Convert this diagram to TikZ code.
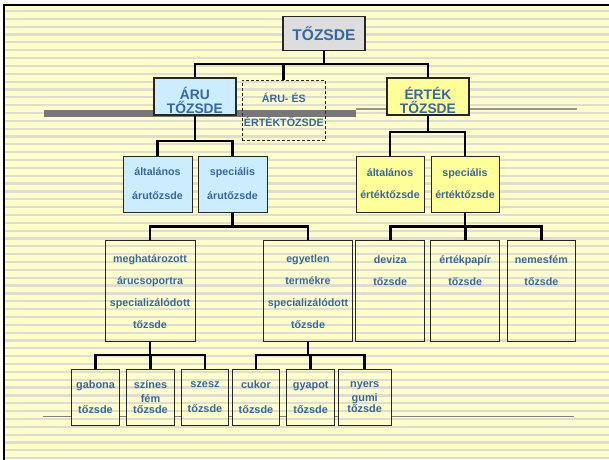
\documentclass[tikz,border=0pt]{standalone}
\usepackage{fontspec}
\setmainfont{Liberation Sans}
\usetikzlibrary{positioning}
\pgfdeclarelayer{background}
\pgfsetlayers{background,main}

\definecolor{bgyellow}{RGB}{255,255,204}
\definecolor{stripegray}{RGB}{221,221,210}
\definecolor{txtblue}{RGB}{55,103,158}
\definecolor{arublue}{RGB}{204,236,255}
\definecolor{ertyellow}{RGB}{255,255,153}
\definecolor{headgray}{RGB}{221,221,221}
\definecolor{bargray}{RGB}{119,119,119}
\definecolor{linegray}{RGB}{150,150,132}

\tikzset{
  box/.style={draw=black!85, line width=1pt, inner sep=1pt, align=center, text=txtblue,
    font=\bfseries\fontsize{10.7}{22}\selectfont},
  headbox/.style={box, line width=1.3pt, fill=headgray, minimum width=82pt, minimum height=34pt,
    font=\bfseries\fontsize{15.5}{18}\selectfont},
  topbox/.style={box, line width=1.3pt, minimum width=82pt, minimum height=33pt,
    font=\bfseries\fontsize{13.8}{14}\selectfont},
  kindbox/.style={box, minimum width=69pt, minimum height=56pt},
  tallbox/.style={box, minimum width=68.5pt, minimum height=101pt},
  smallbox/.style={box, minimum width=47.5pt, minimum height=56pt,
    font=\bfseries\fontsize{10.9}{25}\selectfont},
  txt/.style={inner sep=0pt, align=center, text=txtblue, font=\bfseries\fontsize{10.7}{22}\selectfont},
  conn/.style={line width=2.8pt}
}

\begin{document}
\begin{tikzpicture}[x=1pt,y=-1pt]
\useasboundingbox (0,0) rectangle (609,459);

% felso szint
\node[headbox] (tozsde) at (323.9,33.7) {TŐZSDE};
\node[topbox, fill=arublue] (aru) at (194.9,96.5) {\rule{0pt}{21pt}ÁRU\\TŐZSDE};
\node[box, dashed, dash pattern=on 3pt off 2pt, minimum width=83.5pt, minimum height=60pt,
  font=\bfseries\fontsize{10.7}{24}\selectfont] (vegyes) at (283.8,110) {ÁRU- ÉS\\ÉRTÉKTŐZSDE};
\node[topbox, fill=ertyellow] (ertek) at (427.9,96.5) {\rule{0pt}{21pt}ÉRTÉK\\TŐZSDE};

% masodik szint
\node[kindbox, fill=arublue, font=\bfseries\fontsize{10.7}{24}\selectfont] (altaru) at (157.5,184) {általános\\árutőzsde};
\node[kindbox, fill=arublue, font=\bfseries\fontsize{10.7}{24}\selectfont] (specaru) at (232.5,184) {speciális\\árutőzsde};
\node[kindbox, minimum width=68pt, fill=ertyellow] (altert) at (390,184) {általános\\értéktőzsde};
\node[kindbox, minimum width=68pt, fill=ertyellow] (specert) at (465,184) {speciális\\értéktőzsde};

% harmadik szint
\node[tallbox, minimum width=90pt] (meghat) at (150,291.2) {meghatározott\\árucsoportra\\specializálódott\\tőzsde};
\node[tallbox, minimum width=89.4pt] (egyetlen) at (308,291.2) {egyetlen\\termékre\\specializálódott\\tőzsde};
\node[tallbox] (deviza) at (390.2,290.9) {};
\node[tallbox] (papir) at (465.2,290.9) {};
\node[tallbox] (nemesfem) at (541.4,290.9) {};
\node[txt, below=16pt of deviza.north] (deviza-t) {deviza\\tőzsde};
\node[txt, below=16pt of papir.north] (papir-t) {értékpapír\\tőzsde};
\node[txt, below=16pt of nemesfem.north] (nemesfem-t) {nemesfém\\tőzsde};

% also szint
\node[smallbox] (gabona) at (95.5,397) {gabona\\tőzsde};
\node[smallbox, font=\bfseries\fontsize{10.9}{14}\selectfont] (szines) at (150.5,397) {színes\\fém\\[-3pt]tőzsde};
\node[smallbox, minimum width=46.6pt] (szesz) at (205,397) {szesz\\tőzsde};
\node[smallbox] (cukor) at (256,397) {cukor\\tőzsde};
\node[smallbox, minimum width=48pt] (gyapot) at (310.7,397) {gyapot\\tőzsde};
\node[smallbox, minimum width=52.7pt, font=\bfseries\fontsize{10.9}{14}\selectfont] (nyers) at (364.7,397) {nyers\\gumi\\[-3pt]tőzsde};

% elagazasok szintjei
\coordinate (lvl0) at (0,64);
\coordinate (lvlaru) at (0,141);
\coordinate (lvlert) at (0,132);
\coordinate (lvlspec) at (0,226.7);
\coordinate (lvlbot) at (0,355);

\draw[conn] (aru.north) -- (aru.north |- lvl0) -- (ertek.north |- lvl0) -- (ertek.north);
\draw[conn] (altaru.north) -- (altaru.north |- lvlaru) -- (specaru.north |- lvlaru) -- (specaru.north);
\draw[conn] (altert.north) -- (altert.north |- lvlert) -- (specert.north |- lvlert) -- (specert.north);
\draw[conn] (meghat.north) -- (meghat.north |- lvlspec) -- (egyetlen.north |- lvlspec) -- (egyetlen.north);
\draw[conn] (deviza.north) -- (deviza.north |- lvlspec) -- (nemesfem.north |- lvlspec) -- (nemesfem.north);
\draw[conn] (gabona.north) -- (gabona.north |- lvlbot) -- (szesz.north |- lvlbot) -- (szesz.north);
\draw[conn] (cukor.north) -- (cukor.north |- lvlbot) -- (nyers.north |- lvlbot) -- (nyers.north);

\foreach \a/\l in {tozsde/lvl0, aru/lvlaru, ertek/lvlert, specaru/lvlspec, specert/lvlspec, meghat/lvlbot, egyetlen/lvlbot}
  \draw[conn] (\a.south) -- (\a.south |- \l);
\foreach \a/\l in {vegyes/lvl0, papir/lvlspec, szines/lvlbot, gyapot/lvlbot}
  \draw[conn] (\a.north) -- (\a.north |- \l);

% hatter
\begin{pgfonlayer}{background}
\fill[white] (0,0) rectangle (609,459);
\fill[bgyellow] (4,5) rectangle (609,459);
\draw[gray, line width=1pt] (43,416.5) -- (574,416.5);
\foreach \b in {gabona,szines,szesz,cukor,gyapot,nyers}
  \fill[bgyellow] (\b.south west) rectangle (\b.north east);
\foreach \k in {0,...,57}
  \fill[stripegray] (4,{9.9+7.845*\k}) rectangle (609,{12.1+7.845*\k});
\fill[bargray] (44,109.5) rectangle (356,117);
\draw[linegray, line width=1.3pt] (356,109) -- (577,109);
\draw[line width=2pt] (4,462) -- (4,5) -- (612,5);
\end{pgfonlayer}
\end{tikzpicture}
\end{document}
